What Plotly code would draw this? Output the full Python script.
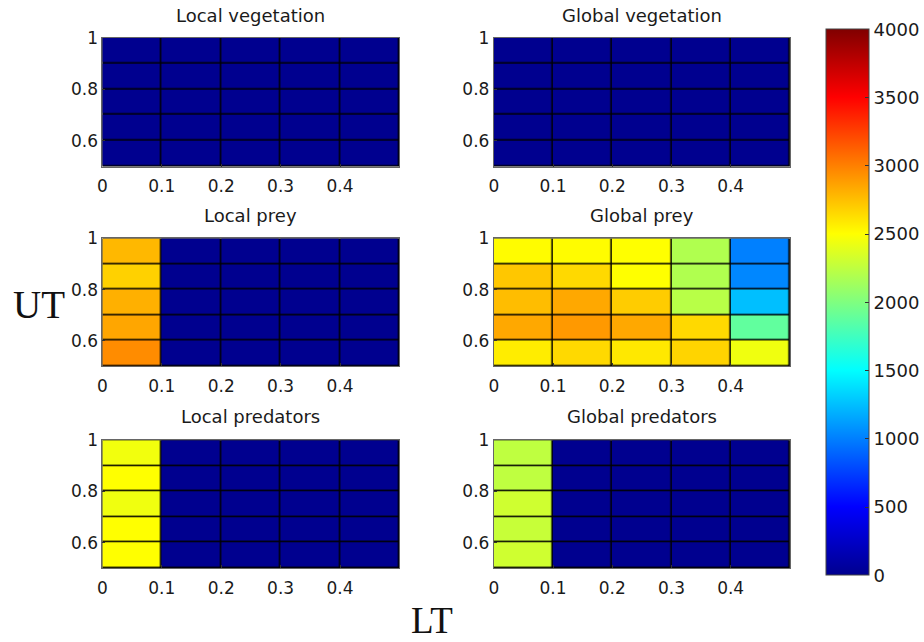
import plotly.graph_objects as go

# ---- data ----
LT_EDGES = [0.0, 0.1, 0.2, 0.3, 0.4, 0.5]
UT_EDGES = [0.5, 0.6, 0.7, 0.8, 0.9, 1.0]
X_TICKS = [0, 0.1, 0.2, 0.3, 0.4]
X_TICK_LABELS = ["0", "0.1", "0.2", "0.3", "0.4"]
Y_TICKS = [0.6, 0.8, 1.0]
Y_TICK_LABELS = ["0.6", "0.8", "1"]
CB_TICKS = [0, 500, 1000, 1500, 2000, 2500, 3000, 3500, 4000]

TITLES = ["Local vegetation", "Global vegetation", "Local prey", "Global prey",
          "Local predators", "Global predators"]

# rows: UT ascending (0.5-0.6 first), cols: LT ascending
local_vegetation = [[0, 0, 0, 0, 0]] * 5
global_vegetation = [[0, 0, 0, 0, 0]] * 5
local_prey = [
    [2950, 0, 0, 0, 0],
    [2850, 0, 0, 0, 0],
    [2810, 0, 0, 0, 0],
    [2680, 0, 0, 0, 0],
    [2780, 0, 0, 0, 0],
]
global_prey = [
    [2570, 2650, 2590, 2670, 2440],
    [2840, 2900, 2840, 2650, 1880],
    [2760, 2840, 2700, 2220, 1250],
    [2720, 2650, 2500, 2190, 1030],
    [2510, 2510, 2500, 2190, 1000],
]
local_predators = [
    [2500, 0, 0, 0, 0],
    [2500, 0, 0, 0, 0],
    [2440, 0, 0, 0, 0],
    [2500, 0, 0, 0, 0],
    [2450, 0, 0, 0, 0],
]
global_predators = [
    [2310, 0, 0, 0, 0],
    [2280, 0, 0, 0, 0],
    [2310, 0, 0, 0, 0],
    [2250, 0, 0, 0, 0],
    [2250, 0, 0, 0, 0],
]
PANELS = [local_vegetation, global_vegetation, local_prey, global_prey,
          local_predators, global_predators]

JET = [
    [0.0, "rgb(0,0,143)"],
    [0.125, "rgb(0,0,255)"],
    [0.375, "rgb(0,255,255)"],
    [0.625, "rgb(255,255,0)"],
    [0.875, "rgb(255,0,0)"],
    [1.0, "rgb(128,0,0)"],
]

W, H = 924, 642
COL_X = [(98, 397), (492, 790)]
ROW_Y = [(28, 159), (232, 362), (437, 567)]
TITLE_Y = [6, 209, 413]

FONT = "DejaVu Sans, Arial, sans-serif"
SERIF = "Liberation Serif, Times New Roman, serif"
TXT = "#1a1a1a"

fig = go.Figure()
layout = dict(
    width=W, height=H,
    margin=dict(l=0, r=0, t=0, b=0),
    paper_bgcolor="white",
    plot_bgcolor="black",
    showlegend=False,
    font=dict(family=FONT, size=17, color=TXT),
    coloraxis=dict(
        colorscale=JET, cmin=0, cmax=4000,
        colorbar=dict(
            x=826 / W, xanchor="left",
            y=1 - 297 / H, yanchor="middle",
            lenmode="pixels", len=546,
            thicknessmode="pixels", thickness=43,
            tickvals=CB_TICKS, ticktext=[str(v) for v in CB_TICKS],
            ticks="inside", ticklen=4, tickcolor="#333",
            outlinecolor="#444", outlinewidth=1,
            tickfont=dict(family=FONT, size=18, color=TXT),
            xpad=0, ypad=0,
        ),
    ),
    annotations=[],
)

for i, (z, title) in enumerate(zip(PANELS, TITLES)):
    r, c = divmod(i, 2)
    n = i + 1
    xa = "x" if n == 1 else f"x{n}"
    ya = "y" if n == 1 else f"y{n}"
    fig.add_trace(go.Heatmap(
        z=z, x=LT_EDGES, y=UT_EDGES, coloraxis="coloraxis",
        xgap=1.5, ygap=1.5, xaxis=xa, yaxis=ya, hoverinfo="skip",
    ))
    x0, x1 = COL_X[c]
    y0, y1 = ROW_Y[r]
    key = "" if n == 1 else str(n)
    layout[f"xaxis{key}"] = dict(
        domain=[x0 / W, x1 / W], anchor=ya, range=[0, 0.5],
        tickvals=X_TICKS, ticktext=X_TICK_LABELS,
        showgrid=False, zeroline=False, showline=True, mirror=True,
        linecolor="#666", linewidth=1, ticks="inside", ticklen=3, tickcolor="#333",
        ticklabelstandoff=4,
        tickfont=dict(size=17, family=FONT, color=TXT),
    )
    layout[f"yaxis{key}"] = dict(
        domain=[1 - y1 / H, 1 - y0 / H], anchor=xa, range=[0.5, 1.0],
        tickvals=Y_TICKS, ticktext=Y_TICK_LABELS,
        showgrid=False, zeroline=False, showline=True, mirror=True,
        linecolor="#666", linewidth=1, ticks="inside", ticklen=3, tickcolor="#333",
        tickfont=dict(size=17, family=FONT, color=TXT),
    )
    layout["annotations"].append(dict(
        text=title, xref="paper", yref="paper",
        x=(x0 + x1) / 2 / W, y=1 - TITLE_Y[r] / H,
        xanchor="center", yanchor="middle", showarrow=False,
        font=dict(family=FONT, size=18, color=TXT),
    ))

layout["annotations"].append(dict(
    text="UT", xref="paper", yref="paper", x=6 / W, y=1 - 299 / H,
    xanchor="left", yanchor="middle", showarrow=False,
    font=dict(family=SERIF, size=39, color="#111"),
))
layout["annotations"].append(dict(
    text="LT", xref="paper", yref="paper", x=430 / W, y=1 - 620 / H,
    xanchor="center", yanchor="middle", showarrow=False,
    font=dict(family=SERIF, size=37, color="#111"),
))

fig.update_layout(**layout)
fig.write_html("out.html", config={"displayModeBar": False},
               post_script="document.body.style.margin='0';")
